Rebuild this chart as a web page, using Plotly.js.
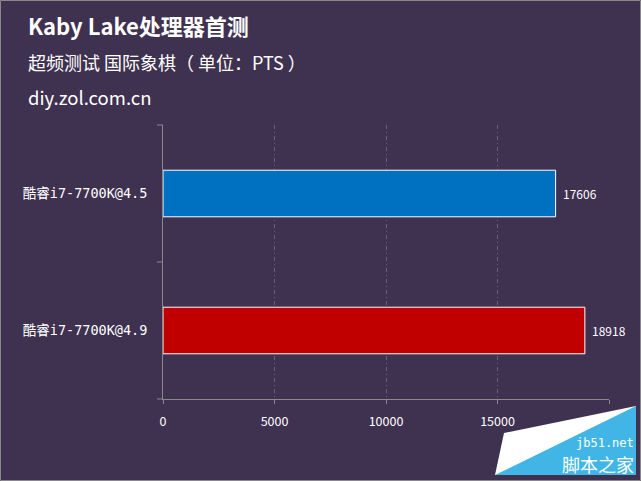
<!DOCTYPE html>
<html><head><meta charset="utf-8">
<script src="https://cdn.plot.ly/plotly-3.0.1.min.js"></script>
<style>html,body{margin:0;padding:0;background:#3f3150;}#chart{width:641px;height:481px;}</style>
</head><body><div id="chart"></div>
<script>
const categories = ['酷睿i7-7700K@4.5', '酷睿i7-7700K@4.9'];
const scores = [17606, 18918];
const barColors = ['#0070c0', '#c00000'];
const xTicks = [0, 5000, 10000, 15000, 20000];
const xTickLabels = ['0', '5000', '10000', '15000', ''];

const W = 641, H = 481, L = 163, R = 32, T = 125, B = 82;
const pw = W - L - R, ph = H - T - B;
const px = x => (x - L) / pw;
const py = y => (H - B - y) / ph;
const CJK = 'Noto Sans CJK SC, sans-serif';
const MONO = 'DejaVu Sans Mono, Noto Sans CJK SC, monospace';

const trace = {
  type: 'bar', orientation: 'h',
  y: categories, x: scores,
  marker: {color: barColors, line: {color: '#ffffff', width: 1}},
  hoverinfo: 'none'
};

function path(pts) {
  return 'M' + pts.map(p => px(p[0]) + ',' + py(p[1])).join(' L') + ' Z';
}

const valueLabels = categories.map((c, i) => ({
  text: String(scores[i]), x: scores[i], y: c, xref: 'x', yref: 'y',
  xanchor: 'left', yanchor: 'middle', xshift: 5, showarrow: false,
  font: {size: 12, color: '#ffffff', family: CJK}
}));

const layout = {
  width: W, height: H,
  paper_bgcolor: '#3f3150', plot_bgcolor: '#3f3150',
  margin: {l: L, r: R, t: T, b: B},
  showlegend: false,
  bargap: 0.66,
  font: {family: CJK, color: '#ffffff'},
  xaxis: {
    range: [0, 20000], tickvals: xTicks, ticktext: xTickLabels,
    showgrid: true, gridcolor: '#6c5c86', griddash: '4px,3px,1px,3px', gridwidth: 1,
    zeroline: false, showline: true, linecolor: '#8a8a8a', linewidth: 1,
    ticks: 'outside', ticklen: 4, tickcolor: '#8a8a8a', ticklabelstandoff: 7,
    tickfont: {size: 12.5, color: '#ffffff', family: CJK},
    fixedrange: true
  },
  yaxis: {
    categoryorder: 'array', categoryarray: categories, autorange: 'reversed',
    showline: true, linecolor: '#8a8a8a', linewidth: 1,
    showgrid: false, zeroline: false, ticks: '',
    tickfont: {size: 13.5, color: '#ffffff', family: MONO},
    ticklabelstandoff: 12, fixedrange: true
  },
  shapes: [
    {type: 'line', xref: 'paper', yref: 'paper', x0: px(157), x1: px(163), y0: 0.5, y1: 0.5, line: {color: '#8a8a8a', width: 1}},
    {type: 'line', xref: 'paper', yref: 'paper', x0: px(157), x1: px(163), y0: 1, y1: 1, line: {color: '#8a8a8a', width: 1}},
    {type: 'line', xref: 'paper', yref: 'paper', x0: px(157), x1: px(163), y0: 0, y1: 0, line: {color: '#8a8a8a', width: 1}},
    {type: 'path', xref: 'paper', yref: 'paper', path: path([[495,475],[504,433],[636,406],[636,475]]), fillcolor: '#ffffff', line: {width: 0}, layer: 'above'},
    {type: 'path', xref: 'paper', yref: 'paper', path: path([[495,475],[636,406],[636,475]]), fillcolor: '#41b6e6', line: {width: 0}, layer: 'above'},
    {type: 'rect', xref: 'paper', yref: 'paper', x0: px(0.5), x1: px(640.5), y0: py(0.5), y1: py(480.5), line: {color: '#888888', width: 1}, fillcolor: 'rgba(0,0,0,0)'}
  ],
  annotations: valueLabels.concat([
    {text: '<b>Kaby Lake处理器首测</b>', xref: 'paper', yref: 'paper', x: px(26), y: py(25), xanchor: 'left', yanchor: 'middle', showarrow: false, font: {size: 22, color: '#ffffff', family: CJK}},
    {text: '超频测试 国际象棋（ 单位：PTS ）', xref: 'paper', yref: 'paper', x: px(26), y: py(62), xanchor: 'left', yanchor: 'middle', showarrow: false, font: {size: 18, color: '#ffffff', family: CJK}},
    {text: 'diy.zol.com.cn', xref: 'paper', yref: 'paper', x: px(26), y: py(97), xanchor: 'left', yanchor: 'middle', showarrow: false, font: {size: 18.5, color: '#ffffff', family: CJK}},
    {text: 'jb51.net', xref: 'paper', yref: 'paper', x: px(635), y: py(443), xanchor: 'right', yanchor: 'middle', showarrow: false, borderpad: 0, font: {size: 12, color: '#ffffff', family: 'DejaVu Sans Mono, monospace'}},
    {text: '脚本之家', xref: 'paper', yref: 'paper', x: px(635), y: py(464), xanchor: 'right', yanchor: 'middle', showarrow: false, borderpad: 0, font: {size: 18, color: '#ffffff', family: CJK}}
  ])
};

Plotly.newPlot('chart', [trace], layout, {displayModeBar: false, staticPlot: true});
</script></body></html>
